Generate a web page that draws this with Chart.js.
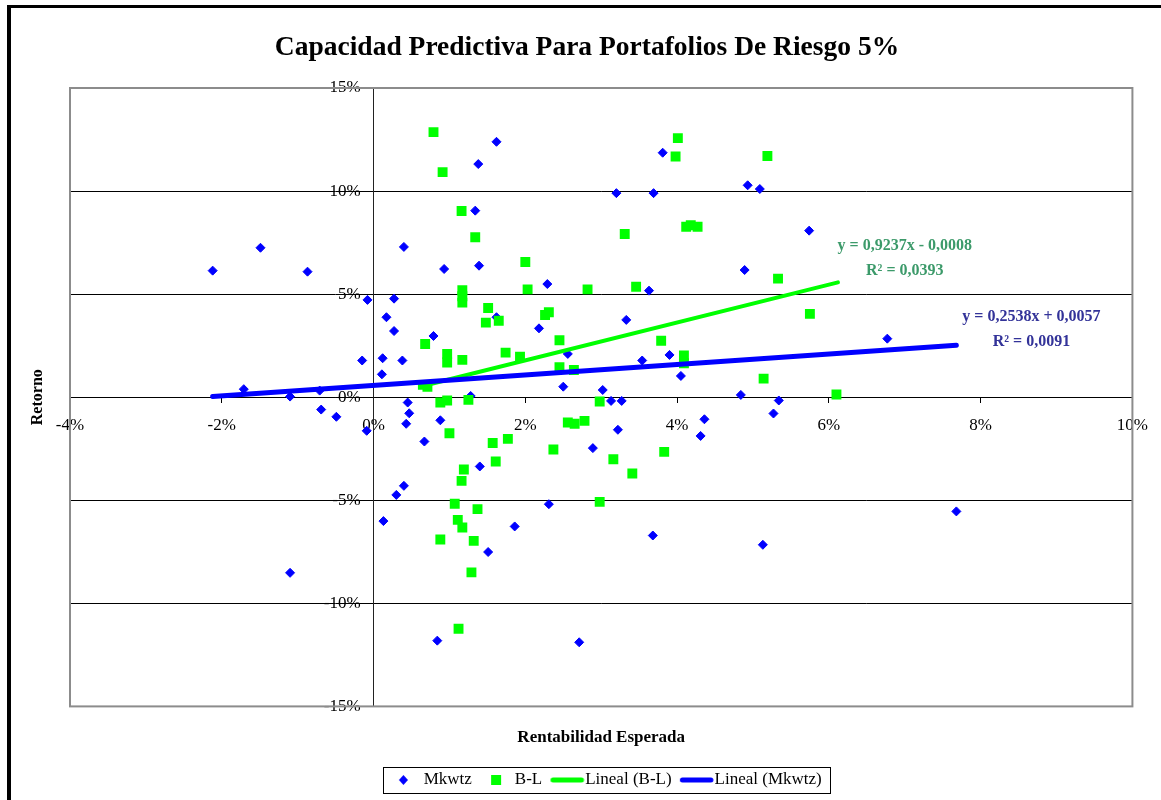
<!DOCTYPE html>
<html>
<head>
<meta charset="utf-8">
<title>Capacidad Predictiva Para Portafolios De Riesgo 5%</title>
<script src="https://cdn.jsdelivr.net/npm/chart.js@4.4.1/dist/chart.umd.min.js"></script>
<style>
  html, body { margin: 0; padding: 0; background: #fff; }
  #chart { display: block; }
</style>
</head>
<body>
<canvas id="chart" width="1161" height="800"></canvas>
<script>
// rentabilidad esperada (x) vs retorno (y), both in %
const mkwtzX = [-2.12, -1.49, -0.87, -0.08, 0.27, 0.17, 0.27, -0.15, 0.12, 0.11,
                -1.71, -1.10, -0.71, -0.69, -0.49, -0.09, 0.13, 0.30, -1.10, 1.62,
                1.38, 3.20, 3.69, 3.81, 4.93, 5.09, 1.34, 0.40, 0.93, 1.39,
                4.89, 2.29, 3.63, 1.62, 0.79, 2.18, 3.33, 0.38, 2.56, 3.54,
                3.90, 4.05, 2.50, 3.02, 3.13, 3.27, 4.84, 1.28, 0.45, 5.34,
                0.47, 0.43, 0.88, 0.67, 3.22, 2.89, 1.40, 0.40, 4.36, 4.31,
                5.27, 2.31, 1.86, 1.51, 3.68, 5.13, 0.84, 2.71, 7.68, 5.74, 6.77];
const mkwtzY = [6.14, 7.25, 6.09, 4.72, 4.78, 3.88, 3.21, 1.78, 1.89, 1.11,
                0.39, 0.03, 0.32, -0.60, -0.95, -1.63, -6.01, -4.74, -8.52, 12.39,
                11.31, 9.90, 9.90, 11.86, 10.28, 10.10, 9.05, 7.29, 6.22, 6.38,
                6.17, 5.49, 5.17, 3.88, 2.97, 3.34, 3.75, 1.78, 2.10, 1.78,
                2.05, 1.03, 0.51, 0.35, -0.18, -0.18, 0.11, 0.06, -0.26, -0.16,
                -0.78, -1.29, -1.12, -2.15, -1.58, -2.47, -3.36, -4.30, -1.07, -1.88,
                -0.79, -5.19, -6.27, -7.51, -6.71, -7.16, -11.81, -11.89, -5.54, 8.08, 2.84];

const blX = [0.79, 0.91, 1.16, 1.34, 2.00, 2.03, 2.82, 1.17, 1.17, 1.17,
             1.51, 1.48, 1.65, 2.26, 2.31, 3.31, 3.46, 4.01, 3.98, 5.19,
             4.12, 4.18, 4.27, 5.33, 3.79, 4.09, 4.09, 5.14, 0.68, 0.97,
             0.97, 1.17, 1.74, 1.93, 2.45, 2.45, 2.64, 0.71, 0.65, 0.88,
             0.97, 1.25, 2.98, 5.75, 6.10, 1.00, 1.57, 1.77, 1.61, 1.19,
             1.16, 2.37, 2.56, 2.65, 2.78, 3.16, 3.41, 3.83, 2.98, 1.07,
             1.37, 1.11, 1.17, 0.88, 1.32, 1.29, 1.12];
const blY = [12.86, 10.92, 9.03, 7.76, 6.56, 5.23, 5.23, 5.19, 4.90, 4.59,
             4.33, 3.62, 3.71, 3.99, 4.12, 7.92, 5.36, 12.57, 11.68, 11.70,
             8.27, 8.34, 8.27, 5.75, 2.74, 2.02, 1.65, 0.90, 2.58, 2.10,
             1.68, 1.81, 2.16, 1.97, 2.76, 1.45, 1.32, 0.51, 0.60, -0.26,
             -0.16, -0.13, -0.21, 4.04, 0.13, -1.75, -2.22, -2.02, -3.12, -3.51,
             -4.06, -2.54, -1.23, -1.29, -1.15, -3.01, -3.70, -2.65, -5.08, -5.17,
             -5.43, -5.95, -6.32, -6.90, -6.97, -8.50, -11.23];

// trendline end points as drawn in the picture
const trendBLX = [0.62, 6.12];
const trendBLY = [0.52, 5.57];
const trendMkX = [-2.12, 7.68];
const trendMkY = [0.03, 2.52];

const eqBL = ['y = 0,9237x - 0,0008', 'R² = 0,0393'];
const eqMk = ['y = 0,2538x + 0,0057', 'R² = 0,0091'];

const seriesNames = ['Mkwtz', 'B-L', 'Lineal (B-L)', 'Lineal (Mkwtz)'];

const SERIF = "'Liberation Serif', 'Times New Roman', serif";
const BLUE = '#0000ff';
const GREEN = '#00ff00';

const toPoints = (xs, ys) => xs.map((x, i) => ({ x: x, y: ys[i] }));
const pct = v => v + '%';

// little canvases used as legend markers
function makeIcon(draw) {
    const c = document.createElement('canvas');
    c.width = 52;
    c.height = 12;
    draw(c.getContext('2d'));
    return c;
}

function iconLine(color) {
    return makeIcon(g => {
        g.strokeStyle = color;
        g.lineWidth = 5;
        g.lineCap = 'round';
        g.beginPath();
        g.moveTo(19.5, 6);
        g.lineTo(48, 6);
        g.stroke();
    });
}

const legendIcons = [
    makeIcon(g => {
        g.fillStyle = BLUE;
        g.beginPath();
        g.moveTo(31.5, 1);
        g.lineTo(36, 6);
        g.lineTo(31.5, 11);
        g.lineTo(27, 6);
        g.closePath();
        g.fill();
    }),
    makeIcon(g => {
        g.fillStyle = GREEN;
        g.fillRect(28, 1, 10, 10);
    }),
    iconLine(GREEN),
    iconLine(BLUE)
];

const decorations = {
    id: 'decorations',
    beforeDraw(chart) {
        const ctx = chart.ctx;
        ctx.save();
        ctx.fillStyle = '#000';
        ctx.fillRect(7, 5, 4, chart.height);
        ctx.fillRect(7, 5, chart.width, 3);
        ctx.restore();
    },
    beforeDatasetsDraw(chart) {
        const a = chart.chartArea;
        const ctx = chart.ctx;
        ctx.save();
        ctx.strokeStyle = '#8c8c8c';
        ctx.lineWidth = 2;
        ctx.strokeRect(a.left, a.top, a.right - a.left, a.bottom - a.top);
        ctx.restore();
    },
    afterDatasetsDraw(chart, args, opts) {
        const ctx = chart.ctx;
        const sx = chart.scales.x;
        const sy = chart.scales.y;
        ctx.save();
        ctx.font = 'bold 16px ' + SERIF;
        ctx.textAlign = 'center';
        ctx.textBaseline = 'middle';
        opts.labels.forEach(lb => {
            const px = sx.getPixelForValue(lb.x);
            const py = sy.getPixelForValue(lb.y);
            ctx.fillStyle = lb.color;
            lb.lines.forEach((t, i) => ctx.fillText(t, px, py + i * 25));
        });
        ctx.restore();
    },
    afterDraw(chart) {
        const boxes = chart.legend && chart.legend.legendHitBoxes;
        if (!boxes || !boxes.length) return;
        const first = boxes[0];
        const last = boxes[boxes.length - 1];
        const left = first.left + 2;
        const right = last.left + last.width + 8;
        const midY = first.top + first.height / 2;
        const ctx = chart.ctx;
        ctx.save();
        ctx.strokeStyle = '#000';
        ctx.lineWidth = 1;
        ctx.strokeRect(Math.round(left) + 0.5, Math.round(midY - 13) + 0.5, Math.round(right - left), 26);
        ctx.restore();
    }
};

const chart = new Chart(document.getElementById('chart'), {
    type: 'scatter',
    data: {
        datasets: [
            {
                label: seriesNames[0],
                data: toPoints(mkwtzX, mkwtzY),
                pointStyle: 'rectRot',
                pointRadius: 4.5,
                backgroundColor: BLUE,
                borderColor: BLUE,
                borderWidth: 1,
                order: 4
            },
            {
                label: seriesNames[1],
                data: toPoints(blX, blY),
                pointStyle: 'rect',
                pointRadius: 7,
                backgroundColor: GREEN,
                borderColor: GREEN,
                borderWidth: 0,
                order: 3
            },
            {
                label: seriesNames[2],
                data: toPoints(trendBLX, trendBLY),
                showLine: true,
                pointRadius: 0,
                borderColor: GREEN,
                backgroundColor: GREEN,
                borderWidth: 4,
                borderCapStyle: 'round',
                order: 2
            },
            {
                label: seriesNames[3],
                data: toPoints(trendMkX, trendMkY),
                showLine: true,
                pointRadius: 0,
                borderColor: BLUE,
                backgroundColor: BLUE,
                borderWidth: 5,
                borderCapStyle: 'round',
                order: 1
            }
        ]
    },
    options: {
        responsive: false,
        animation: false,
        devicePixelRatio: 1,
        layout: {
            padding: { left: 13, right: 0, top: 0, bottom: 1.5 }
        },
        scales: {
            x: {
                type: 'linear',
                position: { y: 0 },
                min: -4,
                max: 10,
                ticks: {
                    stepSize: 2,
                    padding: 13,
                    color: '#000',
                    font: { family: SERIF, size: 17 },
                    callback: pct
                },
                grid: {
                    drawOnChartArea: false,
                    drawTicks: true,
                    tickLength: 5,
                    color: '#000'
                },
                border: { display: true, color: '#000', width: 1 }
            },
            // the value axis: gridlines, tick marks and the line at x = 0
            y: {
                type: 'linear',
                position: { x: 0 },
                min: -15,
                max: 15,
                ticks: { stepSize: 5, display: false },
                grid: {
                    color: '#000',
                    lineWidth: 1,
                    drawTicks: true,
                    tickLength: 5
                },
                border: { display: true, color: '#222', width: 1 }
            },
            // same range, only carries the labels a little left of the axis line
            yLabels: {
                type: 'linear',
                axis: 'y',
                position: { x: -0.171 },
                min: -15,
                max: 15,
                ticks: {
                    stepSize: 5,
                    padding: 0,
                    color: '#000',
                    font: { family: SERIF, size: 17 },
                    callback: pct
                },
                grid: { display: false },
                border: { display: false }
            },
            padL: {
                type: 'linear',
                axis: 'y',
                position: 'left',
                grid: { display: false },
                border: { display: false },
                ticks: { display: false },
                title: {
                    display: true,
                    text: 'Retorno',
                    color: '#000',
                    font: { family: SERIF, size: 16, weight: 'bold' },
                    padding: { top: 15.4, bottom: 0 }
                },
                afterFit: s => { s.width = 57; }
            },
            padR: {
                type: 'linear',
                axis: 'y',
                position: 'right',
                grid: { display: false },
                border: { display: false },
                ticks: { display: false },
                afterFit: s => { s.width = 25; }
            }
        },
        plugins: {
            title: {
                display: true,
                text: 'Capacidad Predictiva Para Portafolios De Riesgo 5%',
                color: '#000',
                font: { family: SERIF, size: 27.5, weight: 'bold', lineHeight: 1.2 },
                padding: { top: 31.5, bottom: 23.5 }
            },
            subtitle: {
                display: true,
                text: 'Rentabilidad Esperada',
                position: 'bottom',
                fullSize: false,
                color: '#000',
                font: { family: SERIF, size: 17, weight: 'bold', lineHeight: 1.2 },
                padding: { top: 20.8, bottom: 23.9 }
            },
            legend: {
                position: 'bottom',
                fullSize: false,
                weight: 1600,
                labels: {
                    color: '#000',
                    font: { family: SERIF, size: 17 },
                    usePointStyle: true,
                    pointStyleWidth: 34.5,
                    padding: 0,
                    generateLabels(ch) {
                        const items = Chart.defaults.plugins.legend.labels.generateLabels(ch);
                        items.sort((a, b) => a.datasetIndex - b.datasetIndex);
                        items.forEach(it => { it.pointStyle = legendIcons[it.datasetIndex]; });
                        return items;
                    }
                }
            },
            tooltip: { enabled: false },
            decorations: {
                labels: [
                    { lines: eqBL, x: 7.0, y: 7.34, color: '#3c9a6a' },
                    { lines: eqMk, x: 8.67, y: 3.89, color: '#333399' }
                ]
            }
        }
    },
    plugins: [decorations]
});
</script>
</body>
</html>
